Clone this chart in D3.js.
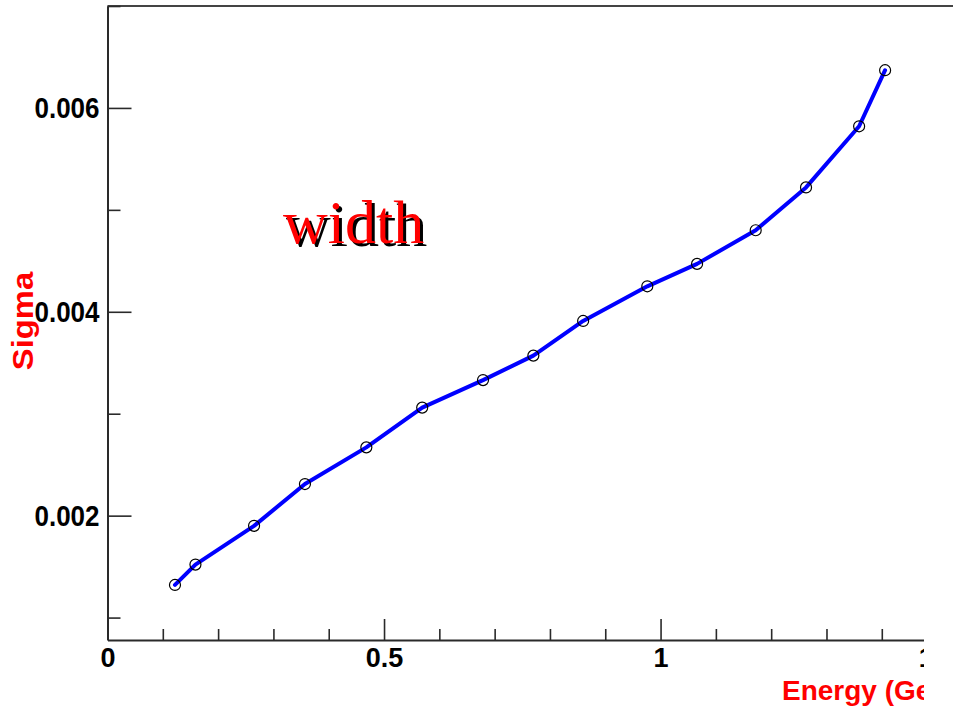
<!DOCTYPE html>
<html>
<head>
<meta charset="utf-8">
<script src="https://cdn.jsdelivr.net/npm/d3@7"></script>
<style>
  html, body { margin: 0; padding: 0; background: #fff; }
  svg { display: block; }
</style>
</head>
<body>
<svg id="chart" width="953" height="709"></svg>
<script>
// ---- data ----
const energy = [0.122, 0.159, 0.265, 0.357, 0.468, 0.569, 0.679, 0.770, 0.860, 0.976, 1.066, 1.172, 1.263, 1.359, 1.406];
const sigma  = [0.00132, 0.00152, 0.00190, 0.00231, 0.00267, 0.00306, 0.00333, 0.00357, 0.00391, 0.00425, 0.00447, 0.00480, 0.00522, 0.00582, 0.00637];
const xMajorTicks = [0, 0.5, 1, 1.5];
const xMinorTicks = [0.1,0.2,0.3,0.4,0.6,0.7,0.8,0.9,1.1,1.2,1.3,1.4];
const yMajorTicks = [0.002, 0.004, 0.006];
const yMinorTicks = [0.001, 0.003, 0.005, 0.007];
const xTitle = "Energy (GeV)";
const yTitle = "Sigma";
const label = "width";

const svg = d3.select("#chart");
const L = 107.5, T = 6, B = 640, Rdraw = 937.1, clipR = 924;

const x = d3.scaleLinear().domain([0, 1.5]).range([L, Rdraw]);
const y = d3.scaleLinear().domain([0.00078, 0.007]).range([B, T]);

svg.append("defs").append("clipPath").attr("id", "clipR")
  .append("rect").attr("x", 0).attr("y", 0).attr("width", clipR).attr("height", 709);

const axisColor = "#2a2a2a";
const fontFam = "'Liberation Sans', Arial, Helvetica, sans-serif";

// top border
svg.append("line").attr("x1", L).attr("x2", 953).attr("y1", T).attr("y2", T)
  .attr("stroke", "#444").attr("stroke-width", 2);

// y axis
const gy = svg.append("g").attr("transform", `translate(${L},0)`);
gy.call(d3.axisLeft(y).tickValues(yMajorTicks).tickSizeInner(-24).tickSizeOuter(0)
  .tickPadding(8).tickFormat(d3.format(".3f")));
gy.append("g").call(d3.axisLeft(y).tickValues(yMinorTicks).tickSizeInner(-13).tickSizeOuter(0).tickFormat(""))
  .select(".domain").remove();
gy.selectAll("path.domain").attr("stroke", axisColor).attr("stroke-width", 2);
gy.selectAll(".tick line").attr("stroke", axisColor).attr("stroke-width", 1.6);
gy.selectAll(".tick text").attr("font-family", fontFam).attr("font-weight", "bold")
  .attr("font-size", 26).attr("fill", "#000").attr("transform", "scale(1,1.15)");

// x axis (clipped)
const gxWrap = svg.append("g").attr("clip-path", "url(#clipR)");
const gx = gxWrap.append("g").attr("transform", `translate(0,${B})`);
gx.call(d3.axisBottom(x).tickValues(xMajorTicks).tickSizeInner(-21).tickSizeOuter(0)
  .tickPadding(8).tickFormat(d => d3.format("")(d)));
gx.append("g").call(d3.axisBottom(x).tickValues(xMinorTicks).tickSizeInner(-11).tickSizeOuter(0).tickFormat(""))
  .select(".domain").remove();
gx.selectAll("path.domain").attr("stroke", axisColor).attr("stroke-width", 2);
gx.selectAll(".tick line").attr("stroke", axisColor).attr("stroke-width", 1.6);
gx.selectAll(".tick text").attr("font-family", fontFam).attr("font-weight", "bold")
  .attr("font-size", 27).attr("fill", "#000");

// x title
gxWrap.append("text").attr("x", 782).attr("y", 700)
  .attr("font-family", fontFam).attr("font-weight", "bold").attr("font-size", 28)
  .attr("fill", "#ff0000").text(xTitle);

// y title
svg.append("text")
  .attr("transform", `translate(33,${(T + B) / 2 - 2}) rotate(-90) scale(1.13,1)`)
  .attr("text-anchor", "middle")
  .attr("font-family", fontFam).attr("font-weight", "bold").attr("font-size", 29)
  .attr("fill", "#ff0000").text(yTitle);

// line
const pts = energy.map((e, i) => [e, sigma[i]]);
svg.append("path").datum(pts)
  .attr("fill", "none").attr("stroke", "#0000ff").attr("stroke-width", 4)
  .attr("stroke-linejoin", "round").attr("stroke-linecap", "round")
  .attr("d", d3.line().x(d => x(d[0])).y(d => y(d[1])));

// markers
svg.append("g").selectAll("circle").data(pts).join("circle")
  .attr("cx", d => x(d[0])).attr("cy", d => y(d[1])).attr("r", 5.5)
  .attr("fill", "none").attr("stroke", "#000").attr("stroke-width", 1.2);

// "width" label with shadow
const lx = 283, ly = 243;
svg.append("text").attr("x", lx + 3).attr("y", ly + 3)
  .attr("font-family", "'Liberation Serif', 'Times New Roman', serif").attr("font-size", 62)
  .attr("fill", "#000").text(label);
svg.append("text").attr("x", lx).attr("y", ly)
  .attr("font-family", "'Liberation Serif', 'Times New Roman', serif").attr("font-size", 62)
  .attr("fill", "#ff0000").text(label);
</script>
</body>
</html>
